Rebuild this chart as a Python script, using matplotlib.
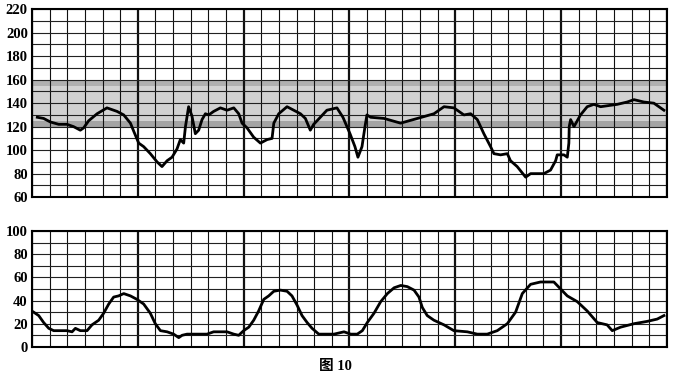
import numpy as np
import matplotlib.pyplot as plt

# x is in chart-paper cells (36 small squares, heavy line every 6)
fhr_t = [0.3, 0.66, 1.04, 1.51, 1.98, 2.36, 2.74, 2.93, 3.21, 3.69, 4.25, 4.82, 5.20,
         5.58, 5.77, 6.05, 6.33, 6.71, 7.09, 7.37, 7.66, 7.94, 8.22, 8.41, 8.60, 8.70,
         8.88, 9.07, 9.26, 9.45, 9.64, 9.83, 10.02, 10.30, 10.68, 11.06, 11.44, 11.72,
         11.91, 12.19, 12.57, 12.95, 13.33, 13.61, 13.71, 13.99, 14.46, 14.84, 15.22,
         15.50, 15.78, 15.97, 16.16, 16.72, 17.29, 17.63, 18.03, 18.31, 18.48, 18.71,
         18.88, 18.99, 19.20, 19.96, 20.90, 21.85, 22.79, 23.36, 23.92, 24.49, 24.87,
         25.25, 25.62, 26.00, 26.19, 26.57, 26.95, 27.13, 27.51, 27.99, 28.27, 28.64,
         29.02, 29.40, 29.69, 29.78, 30.16, 30.35, 30.44, 30.46, 30.54, 30.73, 31.10,
         31.48, 31.86, 32.24, 33.18, 33.75, 34.13, 34.69, 35.26, 35.83]
fhr_bpm = [128, 127, 124, 122, 122, 120, 117, 119, 125, 131, 136, 133, 130,
           123, 116, 106, 103, 97, 90, 86, 91, 94, 101, 109, 106, 120,
           137, 129, 114, 117, 126, 131, 130, 133, 136, 134, 136, 131,
           123, 119, 111, 106, 109, 110, 123, 131, 137, 134, 131,
           127, 117, 122, 125, 134, 136, 128, 114, 103, 94, 103,
           120, 130, 128, 127, 123, 127, 131, 137, 136, 130, 131,
           126, 114, 103, 97, 96, 97, 91, 86, 77, 80, 80,
           80, 83, 91, 96, 96, 94, 106, 120, 126, 120, 130,
           137, 139, 137, 139, 141, 143, 141, 140, 134]

uc_t = [0.09, 0.38, 0.66, 0.95, 1.23, 1.98, 2.27, 2.46, 2.74, 3.12, 3.40, 3.78, 4.06,
        4.35, 4.63, 4.91, 5.20, 5.58, 5.95, 6.33, 6.71, 6.99, 7.28, 7.66, 8.03, 8.32,
        8.51, 8.79, 9.17, 9.55, 9.92, 10.30, 10.68, 11.06, 11.44, 11.72, 12.0, 12.29,
        12.57, 12.85, 13.14, 13.42, 13.71, 14.08, 14.46, 14.74, 15.03, 15.31, 15.60,
        15.88, 16.26, 16.73, 17.12, 17.69, 18.07, 18.44, 18.73, 19.01, 19.39, 19.77,
        20.15, 20.53, 20.91, 21.28, 21.66, 21.94, 22.13, 22.41, 22.79, 23.36, 23.92,
        24.68, 25.25, 25.81, 26.38, 26.95, 27.42, 27.80, 28.27, 28.83, 29.59, 29.97,
        30.35, 30.92, 31.48, 32.05, 32.61, 32.90, 33.37, 34.13, 34.88, 35.45, 35.83]
uc_val = [30, 27, 21, 16, 14, 14, 13, 16, 14, 14, 19, 23, 29,
          37, 43, 44, 46, 44, 41, 37, 29, 20, 14, 13, 11, 8,
          10, 11, 11, 11, 11, 13, 13, 13, 11, 10, 14, 17,
          23, 31, 41, 44, 48, 49, 48, 44, 36, 27, 21,
          16, 11, 11, 11, 13, 11, 11, 14, 21, 29, 39,
          46, 51, 53, 52, 49, 43, 34, 27, 23, 19, 14,
          13, 11, 11, 14, 20, 30, 46, 54, 56, 56, 50,
          44, 39, 31, 21, 19, 14, 17, 20, 22, 24, 27]

fhr_ticks = [60, 80, 100, 120, 140, 160, 180, 200, 220]
uc_ticks = [0, 20, 40, 60, 80, 100]
caption = "图 10"

lab_font = dict(family="Liberation Serif", weight="bold", size=10.5)


def paper_grid(ax, ymin, ymax):
    for c in range(0, 37):
        lw = 1.6 if c % 6 == 0 else 0.8
        ax.axvline(c, color="#111111", lw=lw, zorder=2)
    for v in range(ymin, ymax + 1, 10):
        ax.axhline(v, color="#222222", lw=0.8, zorder=2)
    ax.set_xlim(0, 36)
    ax.set_ylim(ymin, ymax)
    ax.set_xticks([])
    ax.tick_params(axis="y", length=0, pad=3)
    for sp in ax.spines.values():
        sp.set_linewidth(1.5)


fig = plt.figure(figsize=(6.74, 3.85), dpi=100)
ax1 = fig.add_axes([0.0475, 0.488, 0.942, 0.488])
ax2 = fig.add_axes([0.0475, 0.099, 0.942, 0.301])

# top panel: heart rate with grey normal band
paper_grid(ax1, 60, 220)
ax1.axhspan(120, 160, color="#d2d2d2", zorder=1, lw=0)
ax1.axhspan(120, 125, color="#a4a4a4", zorder=1, lw=0)
ax1.axhspan(155, 160, color="#b0b0b0", zorder=1, lw=0)
ax1.plot(fhr_t, fhr_bpm, color="black", lw=2.0, zorder=3)
ax1.set_yticks(fhr_ticks)
ax1.set_yticklabels([str(v) for v in fhr_ticks], **lab_font)

# bottom panel: contractions
paper_grid(ax2, 0, 100)
ax2.plot(uc_t, uc_val, color="black", lw=2.0, zorder=3)
ax2.set_yticks(uc_ticks)
ax2.set_yticklabels([str(v) for v in uc_ticks], **lab_font)

fig.text(0.497, 0.048, caption, ha="center", va="center", size=10.5, weight="bold",
         family=["Liberation Serif", "Noto Sans CJK SC"])

fig.savefig("out.png", dpi=100)
